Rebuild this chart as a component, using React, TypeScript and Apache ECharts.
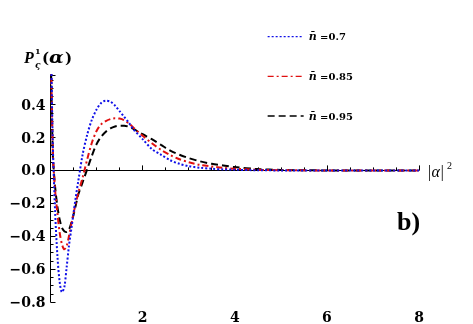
import React, { useEffect, useRef } from 'react';
import * as echarts from 'echarts';

// |alpha|^2 sample positions
const xs = [0, 0.05, 0.1, 0.15, 0.2, 0.25, 0.3, 0.35, 0.4, 0.45, 0.5, 0.55, 0.6, 0.7, 0.8, 0.9, 1.0, 1.1, 1.2, 1.3, 1.4, 1.5, 1.6, 1.7, 1.8, 2.0, 2.2, 2.4, 2.6, 2.8, 3.0, 3.25, 3.5, 3.75, 4.0, 4.5, 5, 6, 7, 8];
// n = 0.7 (blue, dotted)
const n07 = [0.95, 0.16, -0.25, -0.52, -0.68, -0.74, -0.71, -0.59, -0.46, -0.36, -0.26, -0.16, -0.07, 0.10, 0.22, 0.31, 0.37, 0.41, 0.424, 0.418, 0.395, 0.36, 0.325, 0.29, 0.25, 0.19, 0.13, 0.095, 0.062, 0.04, 0.026, 0.016, 0.01, 0.006, 0.004, 0.001, 0, 0, 0, 0];
// n = 0.85 (red, dash-dot)
const n085 = [0.9, 0.12, -0.12, -0.26, -0.38, -0.45, -0.48, -0.46, -0.40, -0.33, -0.26, -0.20, -0.14, -0.04, 0.07, 0.17, 0.24, 0.28, 0.30, 0.312, 0.317, 0.315, 0.305, 0.285, 0.26, 0.21, 0.165, 0.125, 0.093, 0.068, 0.05, 0.033, 0.024, 0.016, 0.01, 0.004, 0.001, 0, 0, 0];
// n = 0.95 (black, dashed)
const n095 = [0.85, 0.1, -0.1, -0.22, -0.30, -0.35, -0.37, -0.375, -0.36, -0.32, -0.27, -0.21, -0.15, -0.07, 0.01, 0.09, 0.16, 0.205, 0.235, 0.255, 0.267, 0.272, 0.272, 0.265, 0.252, 0.22, 0.19, 0.155, 0.12, 0.095, 0.075, 0.055, 0.04, 0.03, 0.02, 0.008, 0.003, 0, 0, 0];

const nbarValues = ['0.7', '0.85', '0.95'];
const seriesColors = ['#1010e8', '#e01010', '#000000'];
const seriesDash: number[][] = [[2, 2], [6, 3, 2, 3], [7, 4]];
const seriesData = [n07, n085, n095];

const SERIF = '"DejaVu Serif", serif';

export default function App() {
  const ref = useRef<HTMLDivElement>(null);
  useEffect(() => {
    if (!ref.current) return;
    const chart = echarts.init(ref.current, null, { renderer: 'svg' });
    const series = seriesData.map((arr, i) => ({
      name: nbarValues[i],
      type: 'line',
      data: xs.map((x, j) => [x, arr[j]]),
      symbol: 'none',
      showSymbol: false,
      smooth: 0.3,
      clip: true,
      lineStyle: { color: seriesColors[i], width: 2, type: seriesDash[i] },
      itemStyle: { color: seriesColors[i] },
      z: 3 - i,
    }));
    chart.setOption({
      animation: false,
      textStyle: { fontFamily: SERIF },
      grid: { left: 50.5, right: 54, top: 75, bottom: 20 },
      legend: {
        orient: 'vertical',
        left: 262,
        top: 26,
        itemWidth: 36,
        itemHeight: 14,
        itemGap: 28.5,
        itemStyle: { opacity: 0 },
        lineStyle: { width: 1.3 },
        data: nbarValues,
        formatter: (name: string) => `{n|n\u0304}{v| =${name}}`,
        textStyle: {
          color: '#000',
          rich: {
            n: { fontFamily: SERIF, fontStyle: 'italic', fontWeight: 'bold', fontSize: 11, color: '#000' },
            v: { fontFamily: SERIF, fontWeight: 'bold', fontSize: 10, color: '#000' },
          },
        },
      },
      xAxis: {
        type: 'value',
        min: 0,
        max: 8,
        interval: 2,
        axisLine: { show: true, onZero: true, lineStyle: { color: '#000', width: 1 } },
        axisTick: { show: true, inside: true, length: 5, lineStyle: { color: '#000' } },
        minorTick: { show: true, splitNumber: 4, length: 3, lineStyle: { color: '#000' } },
        splitLine: { show: false },
        axisLabel: {
          margin: 8,
          color: '#000',
          fontFamily: SERIF,
          fontWeight: 'bold',
          fontSize: 14,
          formatter: (v: number) => (v === 0 ? '' : String(v)),
        },
      },
      yAxis: {
        type: 'value',
        min: -0.8,
        max: 0.58,
        interval: 0.2,
        axisLine: { show: true, onZero: false, lineStyle: { color: '#000', width: 1 } },
        axisTick: { show: true, inside: true, length: 5, lineStyle: { color: '#000' } },
        minorTick: { show: true, splitNumber: 4, length: 3, lineStyle: { color: '#000' } },
        splitLine: { show: false },
        axisLabel: {
          margin: 5,
          color: '#000',
          fontFamily: SERIF,
          fontWeight: 'bold',
          fontSize: 14,
          formatter: (v: number) => {
            if (Math.abs(v * 5 - Math.round(v * 5)) > 1e-6) return '';
            const r = Math.round(v * 10) / 10;
            const s = Math.abs(r).toFixed(1);
            return r < 0 ? '\u2212' + s : s;
          },
        },
      },
      graphic: [
        { type: 'text', left: 24, top: 49, style: { text: 'P', font: 'italic bold 16px "Liberation Serif"', fill: '#000' } },
        { type: 'text', left: 35, top: 47, style: { text: '1', font: 'bold 8px "DejaVu Serif"', fill: '#000' } },
        { type: 'text', left: 35, top: 60, style: { text: 'ς', font: 'italic bold 9px "DejaVu Serif"', fill: '#000' } },
        { type: 'text', left: 42, top: 50, style: { text: '(', font: 'bold 15px "DejaVu Serif"', fill: '#000' } },
        { type: 'text', left: 49, top: 49, scaleX: 1.2, style: { text: 'α', font: 'italic bold 16px "DejaVu Serif"', fill: '#000' } },
        { type: 'text', left: 65, top: 50, style: { text: ')', font: 'bold 15px "DejaVu Serif"', fill: '#000' } },
        { type: 'text', left: 427, top: 163, style: { text: '|α|', font: 'italic 16px "Liberation Serif"', fill: '#000' } },
        { type: 'text', left: 447, top: 160, style: { text: '2', font: '10px "Liberation Serif"', fill: '#000' } },
        { type: 'text', left: 397, top: 208, style: { text: 'b)', font: 'bold 26px "Liberation Serif"', fill: '#000' } },
      ],
      series,
    });
    return () => chart.dispose();
  }, []);
  return <div ref={ref} style={{ position: 'fixed', left: 0, top: 0, width: 473, height: 324 }} />;
}
